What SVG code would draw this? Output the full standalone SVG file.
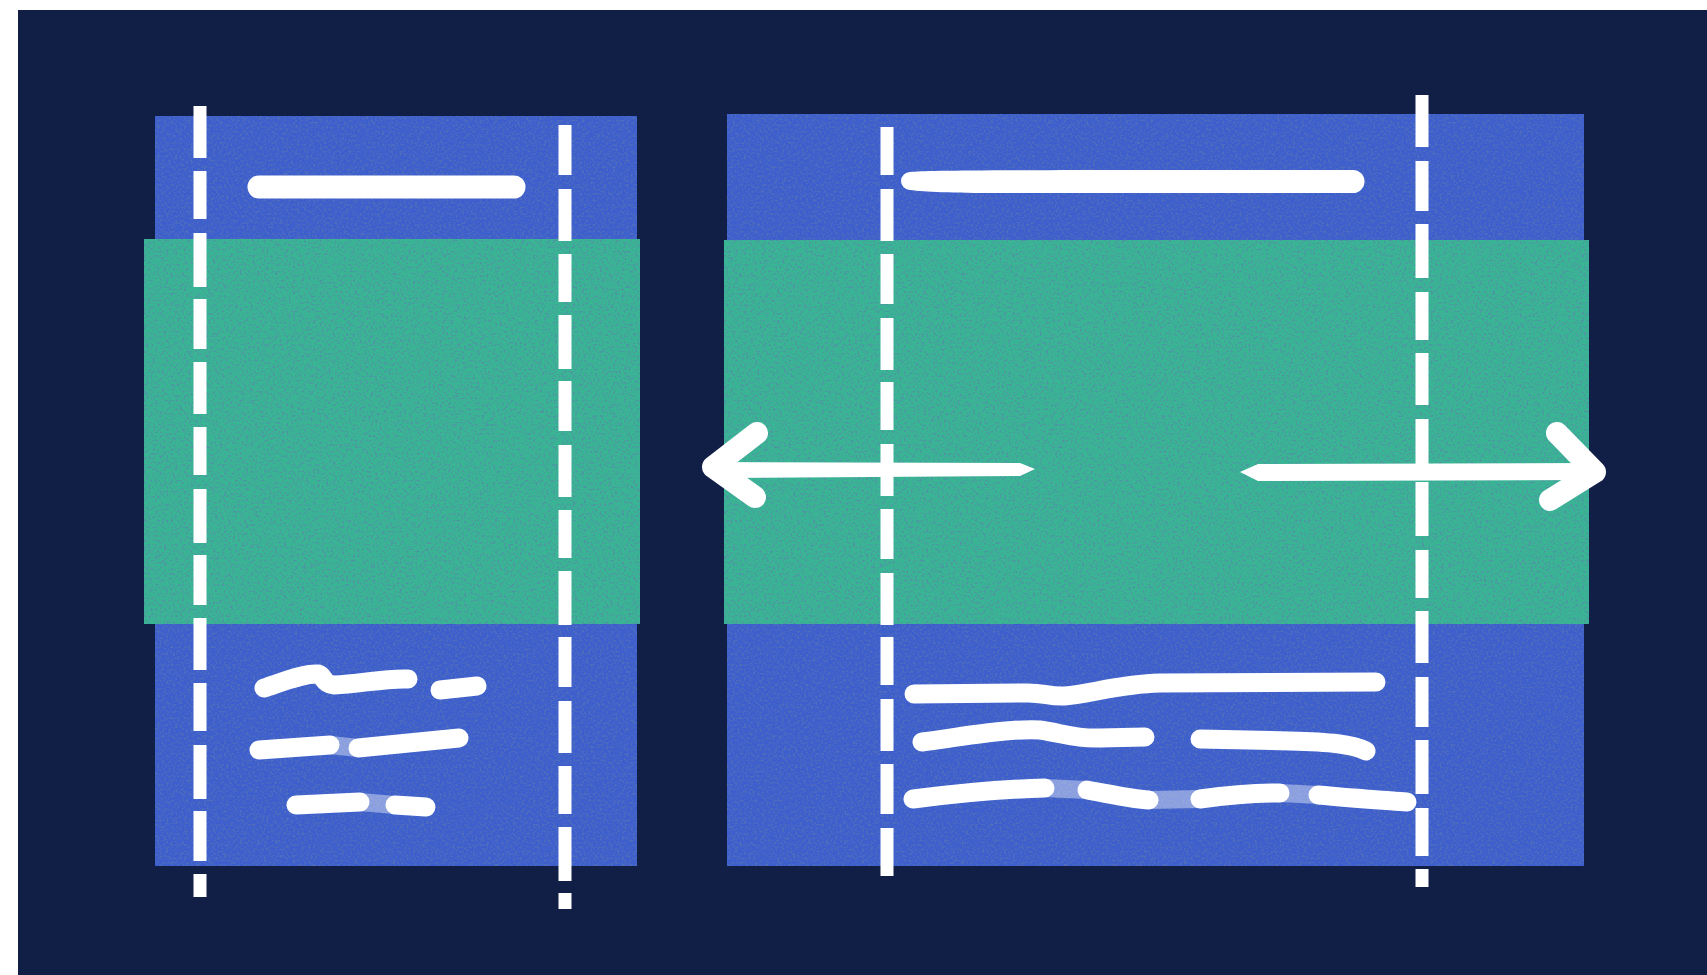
<svg xmlns="http://www.w3.org/2000/svg" width="1707" height="975" viewBox="0 0 1707 975">
  <style>
    .blue { fill: #3c5ecd; }
    .green { fill: #37b693; }
    .dash { fill: none; stroke: #ffffff; stroke-width: 13; stroke-linecap: butt; }
    .bar { fill: none; stroke: #ffffff; stroke-width: 23; stroke-linecap: round; }
    .scr { fill: none; stroke: #ffffff; stroke-width: 19; stroke-linecap: round; stroke-linejoin: round; }
    .fade { fill: none; stroke: #ffffff; stroke-opacity: 0.4; stroke-width: 18; stroke-linecap: butt; }
    .arm { fill: none; stroke: #ffffff; stroke-width: 22; stroke-linecap: round; stroke-linejoin: round; }
    .shaft { fill: #ffffff; }
  </style>
  <defs>
    <filter id="grain" x="0" y="0" width="100%" height="100%">
      <feTurbulence type="fractalNoise" baseFrequency="0.45" numOctaves="3" seed="7" result="n"/>
      <feColorMatrix in="n" type="matrix" values="0 0 0 0 0.10  0 0 0 0 0.18  0 0 0 0 0.42  4 0 0 0 -1.9" result="specks"/>
      <feComposite in="specks" in2="SourceGraphic" operator="in" result="clipped"/>
      <feComponentTransfer in="clipped" result="soft"><feFuncA type="linear" slope="0.6"/></feComponentTransfer>
      <feMerge><feMergeNode in="SourceGraphic"/><feMergeNode in="soft"/></feMerge>
    </filter>
  </defs>

  <rect x="0" y="0" width="1707" height="975" fill="#ffffff"/>
  <rect x="18" y="10" width="1689" height="965" fill="#111e45"/>

  <g id="card-left">
    <rect class="blue" x="155" y="116" width="482" height="750" filter="url(#grain)"/>
    <rect class="green" x="144" y="239" width="496" height="385" filter="url(#grain)"/>
    <path class="bar" d="M259,187 L514,187"/>
    <g id="left-scribbles">
      <path class="scr" d="M264,688 C285,681 305,673 318,674 C325,676 322,684 334,685 C360,684 385,678 408,679"/>
      <path class="scr" d="M440,690 L477,686"/>
      <path class="scr" d="M259,750 L330,745"/>
      <path class="fade" d="M330,745 L358,748"/>
      <path class="scr" d="M358,748 L459,738"/>
      <path class="scr" d="M296,805 L360,802"/>
      <path class="fade" d="M360,802 L395,805"/>
      <path class="scr" d="M395,805 L426,807"/>
    </g>
  </g>

  <g id="card-right">
    <rect class="blue" x="727" y="114" width="857" height="752" filter="url(#grain)"/>
    <rect class="green" x="724" y="240" width="865" height="384" filter="url(#grain)"/>
    <path class="shaft" d="M910,172 C930,170 1000,170 1353,170 A11.5,11.5 0 0 1 1353,193 L1000,193 C950,193 925,192 910,190 A9,9 0 0 1 910,172 Z"/>
    <g id="right-scribbles">
      <path class="scr" d="M914,694 L1028,693 C1045,693 1050,697 1065,696 C1090,694 1120,684 1160,683 L1376,682" stroke-width="20"/>
      <path class="scr" d="M922,742 C960,737 1010,728 1040,730 C1062,733 1075,739 1100,738 L1145,737" stroke-width="20"/>
      <path class="scr" d="M1200,739 L1290,741 C1330,742 1352,744 1366,751" stroke-width="20"/>
      <path class="scr" d="M913,799 C960,793 1000,789 1045,788"/>
      <path class="fade" d="M1045,788 L1087,790"/>
      <path class="scr" d="M1087,790 C1110,794 1130,799 1149,800"/>
      <path class="fade" d="M1149,800 L1200,799"/>
      <path class="scr" d="M1200,799 C1230,795 1260,793 1280,793"/>
      <path class="fade" d="M1280,793 L1318,795"/>
      <path class="scr" d="M1318,795 C1350,798 1380,800 1407,802"/>
    </g>
  </g>

  <g id="connectors">
    <g id="guides">
      <path class="dash" d="M200,106 L200,897" stroke-dasharray="52 13 48 14 54 12 50 13"/>
      <path class="dash" d="M565,125 L565,909" stroke-dasharray="50 14 52 13 48 13 54 12"/>
      <path class="dash" d="M887,127 L887,876" stroke-dasharray="48 14 52 13 50 14 52 12"/>
      <path class="dash" d="M1422,95 L1422,887" stroke-dasharray="52 14 50 13 54 14 48 13"/>
    </g>
    <g id="arrow-left">
      <path class="shaft" d="M716,462 L1020,463 L1035,469 L1020,476 L716,478 Z"/>
      <path class="arm" d="M757,433 L713,467 L755,497"/>
    </g>
    <g id="arrow-right">
      <path class="shaft" d="M1240,472 L1258,464 L1590,463 L1590,480 L1258,481 Z"/>
      <path class="arm" d="M1557,433 L1595,472 L1550,500"/>
    </g>
  </g>
</svg>
